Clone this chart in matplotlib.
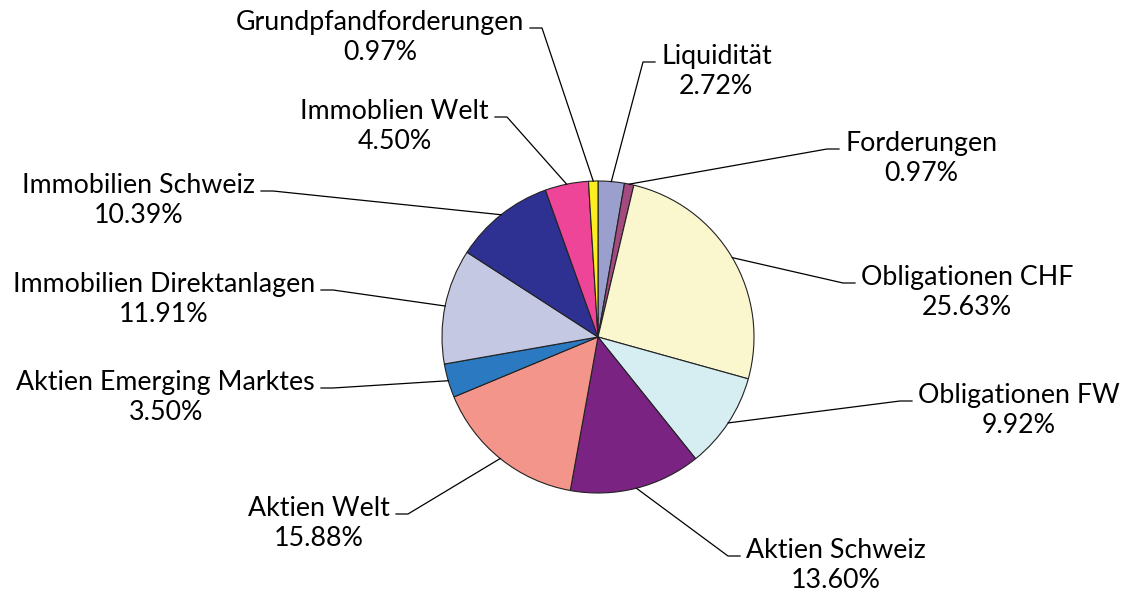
import numpy as np
import matplotlib
matplotlib.use("Agg")
import matplotlib.pyplot as plt

# Portfolio allocation, clockwise from 12 o'clock (label spelling as in source)
categories = ["Liquidität", "Forderungen", "Obligationen CHF", "Obligationen FW",
              "Aktien Schweiz", "Aktien Welt", "Aktien Emerging Marktes",
              "Immobilien Direktanlagen", "Immobilien Schweiz", "Immoblien Welt",
              "Grundpfandforderungen"]
shares = [2.72, 0.97, 25.63, 9.92, 13.60, 15.88, 3.50, 11.91, 10.39, 4.50, 0.97]
colors = ["#9b9fce", "#a34a7e", "#faf7cf", "#d6eef2", "#7b2383", "#f4958c",
          "#2b79c0", "#c5c8e3", "#2e3192", "#ee4599", "#fcee21"]

# label elbow points (pixel coords) and side the text sits on
elbows = [(643, 62), (827, 149), (843, 283), (900, 401), (728, 556), (408, 514),
          (333, 388), (333, 290), (273, 191), (507, 117), (542, 28)]
sides = [1, 1, 1, 1, 1, -1, -1, -1, -1, -1, -1]

W, H = 1123, 591
fig = plt.figure(figsize=(W / 100, H / 100), dpi=100)
ax = fig.add_axes([0, 0, 1, 1])

cx, cy, r = 598, 337, 156
# y axis is flipped below, so angle 270 is 12 o'clock and counterclock runs clockwise on screen
wedges, _ = ax.pie(shares, colors=colors, startangle=270, counterclock=True,
                   center=(cx, cy), radius=r, frame=True,
                   wedgeprops=dict(edgecolor="#222222", linewidth=0.8))
ax.set_xlim(0, W)
ax.set_ylim(H, 0)
ax.set_aspect("equal")
ax.axis("off")

for w, name, val, (ex, ey), s in zip(wedges, categories, shares, elbows, sides):
    mid = np.deg2rad((w.theta1 + w.theta2) / 2)
    px = cx + r * np.cos(mid)
    py = cy + r * np.sin(mid)
    hx = ex + 12 * s
    ax.plot([px, ex, hx], [py, ey, ey], color="black", lw=0.9)
    ax.text(hx + 6 * s, ey + 32, f"{name}\n{val:.2f}%",
            ha="left" if s > 0 else "right", va="baseline",
            multialignment="center", fontsize=19.3, family="Lato",
            linespacing=1.27, color="black")

fig.savefig("out.png", dpi=100)
